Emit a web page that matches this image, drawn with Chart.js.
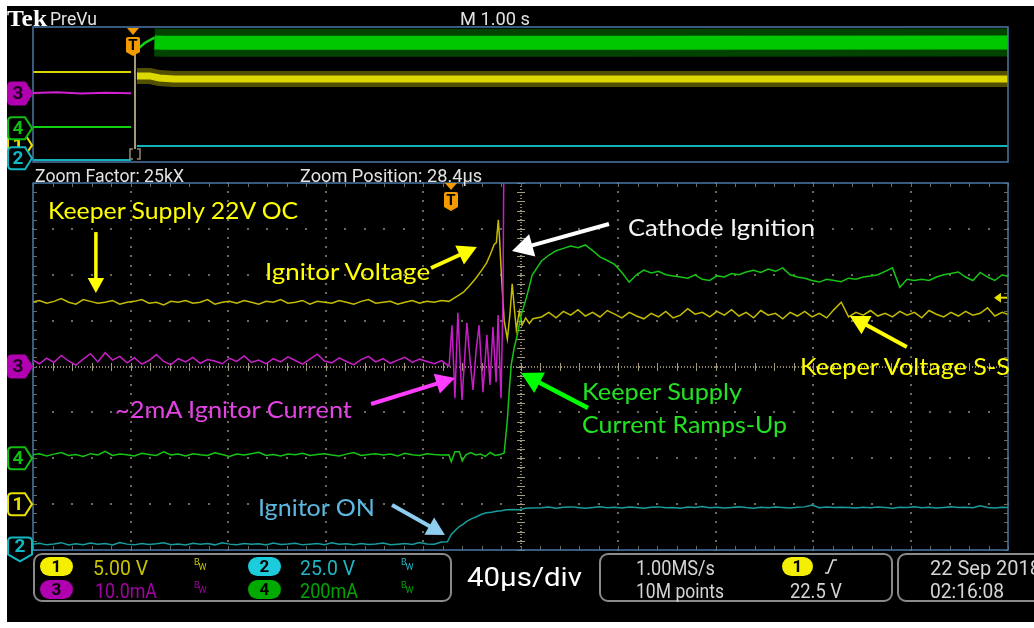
<!DOCTYPE html>
<html lang="en">
<head>
<meta charset="utf-8">
<title>Cathode ignition - scope capture</title>
<script src="https://cdn.jsdelivr.net/npm/chart.js@4.4.1/dist/chart.umd.min.js"></script>
<style>
  html, body { margin: 0; padding: 0; background: #fff; }
  body { width: 1034px; height: 628px; position: relative; overflow: hidden; }
  #screen { position: absolute; left: 7px; top: 6px; width: 1027px; height: 616px; background: #000; }
  canvas { position: absolute; left: 0; top: 0; }
  .lbl { position: absolute; line-height: 1; white-space: nowrap; transform-origin: 0 0; }
  .box { position: absolute; border: 2px solid #8a8a8a; border-radius: 9px; box-sizing: border-box; }
  .pill { position: absolute; width: 33px; height: 19px; border-radius: 10px; font: bold 17px Roboto, sans-serif;
          color: #000; text-align: center; line-height: 19px; }
  .bw { position: absolute; font: 9px Roboto, sans-serif; line-height: 1; }
  .bw span:last-child { position: relative; top: 5px; left: -1px; }
</style>
</head>
<body>
<div id="screen"></div>
<canvas id="overview" width="1034" height="628"></canvas>
<canvas id="zoom" width="1034" height="628"></canvas>

<!-- status bar -->
<div class="box" style="left:33px;top:553px;width:419px;height:49px"></div>
<div class="box" style="left:599px;top:553px;width:294px;height:49px"></div>
<div class="box" style="left:897px;top:553px;width:160px;height:49px"></div>
<div class="pill" style="left:40px;top:557px;background:#f4ee00">1</div>
<div class="pill" style="left:248px;top:557px;background:#1ccbdc">2</div>
<div class="pill" style="left:40px;top:580px;background:#b000b0">3</div>
<div class="pill" style="left:248px;top:580px;background:#00aa00">4</div>
<div class="pill" style="left:782px;top:557px;width:31px;background:#f4ee00">1</div>
<div class="bw" style="left:194px;top:558px;color:#c8c400"><span>B</span><span>W</span></div>
<div class="bw" style="left:401px;top:558px;color:#20b4c4"><span>B</span><span>W</span></div>
<div class="bw" style="left:194px;top:581px;color:#a400a4"><span>B</span><span>W</span></div>
<div class="bw" style="left:401px;top:581px;color:#00a400"><span>B</span><span>W</span></div>
<svg style="position:absolute;left:822px;top:557px" width="18" height="18">
  <path d="M3 16 L6 16 L11 3 L15 3" stroke="#dddddd" stroke-width="1.6" fill="none"/>
</svg>

<script>
// ---- scope settings ----
const timePerDiv = 40;      // µs/div in the zoom window
const zoomCenter = 28.4;    // µs, zoom position
const ovMin = -1.046;       // s, left edge of the 1 s/div overview record
const borderBlue = '#4a78a6';

const channels = [
  { id: 1, perDiv: 5,   ground: -3,   trace: '#c4bc00', over: '#dcd600' },
  { id: 2, perDiv: 25,  ground: -3.9, trace: '#1a9c9e', over: '#10b2bc' },
  { id: 3, perDiv: 10,  ground: 0,    trace: '#c81ec8', over: '#d020d0' },
  { id: 4, perDiv: 200, ground: -2,   trace: '#16c416', over: '#10d010' }
];

// ---- zoom window data (µs after trigger) ----
const tPre = [-172,-169,-166,-163,-160,-157,-154,-151,-148,-145,
  -142,-139,-136,-133,-130,-127,-124,-121,-118,-115,
  -112,-109,-106,-103,-100,-97,-94,-91,-88,-85,
  -82,-79,-76,-73,-70,-67,-64,-61,-58,-55,
  -52,-49,-46,-43,-40,-37,-34,-31,-28,-25,
  -22,-19,-16,-13,-10,-7,-4];
const tPost = [37,40,43,46,49,52,55,58,61,64,
  67,70,73,76,79,82,85,88,91,94,
  97,100,103,106,109,112,115,118,121,124,
  127,130,133,136,139,142,145,148,151,154,
  157,160,163,166,169,172,175,178,181,184,
  187,190,193,196,199,202,205,208,211,214,
  217,220,223,226,229];

// Ch1 ignitor / keeper voltage (V)
const ch1Pre = [22.0,22.2,21.9,22.1,22.4,22.0,21.8,22.3,22.1,21.9,
  22.0,22.2,21.8,22.0,22.1,22.3,21.9,22.0,21.7,22.1,
  22.0,22.2,21.9,22.0,22.3,21.8,22.0,22.1,21.9,22.2,
  22.0,21.8,22.1,22.0,22.3,21.9,22.0,22.2,21.8,22.1,
  22.0,21.9,22.2,22.0,21.8,22.1,22.3,21.9,22.0,22.1,
  21.8,22.0,22.2,21.9,22.1,22.0,22.2];
const ch1EventT = [-1,2,5,7.5,10,12.5,14.5,16,17.6,18.5,19.3,19.8,20.5,21.7,23,24,25,26,26.7,27.9,29,30.5,32,33.5];
const ch1EventV = [22.1,22.6,23.1,23.8,24.6,25.5,26.3,27.2,28.3,28.5,31.0,29.0,25.3,20.0,18.0,20.5,24.0,21.0,19.0,21.0,19.5,20.3,19.7,20.2];
const ch1Post = [20.4,20.9,20.3,21.0,20.6,21.2,20.5,20.9,20.4,21.1,
  20.7,20.3,20.9,20.5,20.2,20.8,20.4,21.0,20.3,20.6,
  21.3,20.7,20.9,20.4,21.0,20.6,21.2,20.5,20.9,20.3,
  21.1,20.6,20.8,20.2,20.9,20.5,21.0,20.4,20.8,20.3,
  21.2,22.0,20.4,20.9,20.6,21.1,20.5,20.8,20.4,21.0,
  20.6,20.9,20.3,21.1,20.7,20.4,20.9,20.5,21.0,20.6,
  20.8,21.4,20.5,20.9,20.6];

// Ch3 ignitor current (mA)
const ch3Pre = [1.5,0.6,1.8,0.9,2.4,1.2,0.3,1.6,2.8,1.0,
  3.0,1.4,2.2,0.8,1.9,0.5,1.3,2.6,1.1,0.4,
  1.7,1.0,2.0,0.7,1.5,1.2,0.6,1.8,1.1,2.3,
  0.9,1.4,0.6,1.7,1.0,2.1,1.3,0.5,1.6,2.7,
  1.2,0.8,1.9,1.1,0.4,1.5,2.2,1.0,1.7,0.7,
  1.4,2.0,0.9,1.6,1.1,0.6,1.3];
const ch3EventT = [-0.9,0.3,1.5,2.7,4.4,6.4,7.7,8.9,10.2,11.4,13.0,14.6,15.9,17.1,18.4,19.2,20.4,21.2,22.0,229];
const ch3EventV = [0.1,9.0,-6.9,11.7,-7.3,9.5,1.4,-5.1,3.6,9.0,-5.6,6.9,-4.0,8.6,-3.4,11.2,-6.9,14.5,80,80];

// Ch4 keeper supply current (mA)
const ch4Pre = [15,20,10,18,25,12,16,8,20,14,
  30,12,18,15,10,22,16,12,28,14,
  18,10,20,15,12,24,16,8,18,14,
  20,26,12,16,10,18,15,22,12,16,
  20,14,10,18,25,12,16,20,14,18,
  10,22,15,12,20,16,14];
const ch4EventT = [-1,0,1.5,3.3,4.5,6,8,10,12,14,16,18,20,21.7,23.0,23.8,24.6,25.8,27.1,28.7,30.8,33.2];
const ch4EventV = [15,-15,28,28,-12,15,25,14,18,8,25,12,16,23,167,298,407,481,538,625,699,799];
const ch4Post = [860,885,905,915,925,918,930,905,878,862,
  845,810,768,800,820,808,815,800,795,790,
  785,800,780,775,795,790,805,800,812,820,
  810,825,815,830,800,790,785,775,768,780,
  775,770,785,780,790,795,800,815,830,745,
  780,775,780,775,790,800,805,812,790,775,
  810,790,775,800,790];

// Ch2 ignitor supply voltage (V)
const ch2Pre = [0.5,1.2,0.3,0.8,1.5,0.2,0.9,0.4,1.3,0.6,
  1.0,0.2,1.6,0.7,0.3,1.1,0.5,0.9,1.4,0.4,
  0.8,0.2,1.2,0.6,1.0,0.3,1.5,0.7,0.4,1.1,
  0.6,0.9,0.2,1.3,0.5,0.8,1.2,0.3,0.7,1.0,
  0.4,1.4,0.6,0.9,0.3,1.1,0.5,0.8,1.3,0.4,
  0.7,1.0,0.5,1.6,0.8,0.6,1.8];
const ch2EventT = [-1.6,0,1.5,3.3,4.8,6.2,8.2,10.3,12.4,14.4,16.5,18.5,20.5,22.6,25,27.9,30.5,33];
const ch2EventV = [2.0,6.0,8.0,10.3,11.5,13.0,14.5,15.6,17.0,17.8,18.1,18.6,18.9,19.4,19.6,19.5,20.2,20.4];
const ch2Post = [20.5,20.9,20.3,20.8,21.0,20.6,20.2,20.7,21.1,20.5,
  20.8,20.4,20.9,20.6,20.2,20.8,21.0,20.5,20.7,20.3,
  20.9,20.6,21.2,20.5,20.8,20.4,20.7,21.0,20.6,20.3,
  20.8,20.5,20.9,20.7,20.4,20.8,21.0,22.0,20.5,20.9,
  20.6,20.8,20.7,20.4,20.8,20.5,20.9,20.6,20.3,20.8,
  20.7,21.1,20.5,20.8,20.4,20.7,21.0,20.6,20.8,20.5,
  21.6,20.7,20.4,20.8,20.6];

// ---- overview record (s after trigger) ----
const ovTPre = [-1.06,-0.8,-0.55,-0.3,-0.04];
const ov1Pre = [21.7,21.7,21.7,21.7,21.7];
const ov3Pre = [0.9,1.3,0.6,1.1,0.8];
const ov4Pre = [15,15,15,15,15];
const ov2Pre = [0.4,0.4,0.4,0.4,0.4];
const ovTPost = [0.02,0.15,0.25,0.4,2,5,8.96];
const ov1Post = [20.5,20.5,19.9,19.6,19.6,19.6,19.6];
const ov2Post = [21.2,21.2,21.2,21.2,21.2,21.2,21.2];
const ov4RampT = [0.02,0.1,0.2];
const ov4RampV = [930,1010,1075];
const ovTBand = [0.2,0.3,2,5,8.96];
const ov4Band = [1015,1012,1012,1014,1016];

// ---- annotations (µs, div) ----
const notes = [
  { text: 'Keeper Supply 22V OC', t: -165.5, d: 3.28, color: '#ffff00', w: 250,
    arrow: { from: [-145.8, 2.93], to: [-145.8, 1.60], color: '#ffff00', lw: 3.5, head: 15 } },
  { text: 'Ignitor Voltage', t: -76.4, d: 1.95, color: '#ffff00', w: 165,
    arrow: { from: [-8.3, 2.147], to: [10.5, 2.605], color: '#ffff00', lw: 4, head: 19 } },
  { text: 'Cathode Ignition', t: 72.5, d: 2.91, color: '#f4f4f4', w: 187,
    arrow: { from: [64.7, 3.106], to: [24.9, 2.518], color: '#ffffff', lw: 4, head: 21 } },
  { text: '~2mA Ignitor Current', t: -138.0, d: -1.057, color: '#e444e4', w: 237,
    arrow: { from: [-32.9, -0.817], to: [1.5, -0.251], color: '#ff3cff', lw: 4, head: 19 } },
  { text: 'Keeper Supply', t: 53.6, d: -0.665, color: '#22e222', w: 160,
    arrow: { from: [56.1, -0.904], to: [28.6, -0.142], color: '#00ff00', lw: 4.5, head: 21 } },
  { text: 'Current Ramps-Up', t: 53.6, d: -1.384, color: '#22e222', w: 205 },
  { text: 'Keeper Voltage S-S', t: 143.1, d: -0.12, color: '#ffff00', w: 210,
    arrow: { from: [186.9, 0.425], to: [163.5, 1.101], color: '#ffff00', lw: 4, head: 19 } },
  { text: 'Ignitor ON', t: -79.3, d: -3.193, color: '#5cb8e0', w: 117,
    arrow: { from: [-24.3, -3.019], to: [-2.6, -3.673], color: '#8ccdf0', lw: 4, head: 18 } }
];

// ---- scope UI text: [text, x, baseline, options] ----
const uiText = [
  ['Tek', 7, 25, { size: 24, font: 'Liberation Serif', weight: 'bold', color: '#ffffff', w: 40 }],
  ['PreVu', 50, 23, { size: 18, color: '#e2e2e2', w: 47 }],
  ['M 1.00 s', 460, 23, { size: 19, color: '#e2e2e2', w: 70 }],
  ['Zoom Factor: 25kX', 35, 180, { size: 19, color: '#e2e2e2', w: 149 }],
  ['Zoom Position: 28.4µs', 300, 180, { size: 19, color: '#e2e2e2', w: 182 }],
  ['5.00 V', 93, 573, { size: 20, color: '#c8c400', w: 55 }],
  ['25.0 V', 300, 573, { size: 20, color: '#20b4c4', w: 55 }],
  ['10.0mA', 95, 596, { size: 20, color: '#a400a4', w: 62 }],
  ['200mA', 300, 596, { size: 20, color: '#00a400', w: 58 }],
  ['40µs/div', 467, 584, { size: 26, color: '#ffffff', w: 115 }],
  ['1.00MS/s', 636, 573, { size: 20, color: '#d4d4d4', w: 79 }],
  ['10M points', 636, 596, { size: 20, color: '#d4d4d4', w: 88 }],
  ['22.5 V', 790, 596, { size: 20, color: '#d4d4d4', w: 52 }],
  ['22 Sep  2018', 930, 573, { size: 20, color: '#d4d4d4' }],
  ['02:16:08', 930, 596, { size: 20, color: '#d4d4d4', w: 74 }]
];

const baseFactor = { 'Lato': 0.887, 'Roboto': 0.842, 'Liberation Serif': 0.838 };

function putText(txt, x, base, o) {
  const font = o.font || 'Roboto';
  const el = document.createElement('div');
  el.className = 'lbl';
  el.textContent = txt;
  el.style.font = `${o.weight || 'normal'} ${o.size}px "${font}", sans-serif`;
  el.style.color = o.color;
  el.style.left = x + 'px';
  el.style.top = (base - o.size * (baseFactor[font] || 0.85)) + 'px';
  document.body.appendChild(el);
  if (o.w) {
    const s = o.w / el.getBoundingClientRect().width;
    el.style.transform = `scaleX(${s.toFixed(3)})`;
  }
  return el;
}

const pts = (ts, vs) => ts.map((t, i) => ({ x: t, y: vs[i] }));
const chById = id => channels.find(c => c.id === id);

function channelScales(xMin, xMax) {
  const scales = {
    x: { type: 'linear', display: false, min: xMin, max: xMax },
    yd: { type: 'linear', display: false, min: -4, max: 4 }
  };
  channels.forEach(c => {
    scales['y' + c.id] = { type: 'linear', display: false,
      min: (-4 - c.ground) * c.perDiv, max: (4 - c.ground) * c.perDiv };
  });
  return scales;
}

function trace(id, data, extra) {
  return Object.assign({ yAxisID: 'y' + id, data, borderColor: chById(id).trace, borderWidth: 1.5,
    pointRadius: 0, tension: 0, fill: false }, extra || {});
}

// ---- drawing helpers ----
function chMarker(ctx, cy, num, color, filled, down) {
  const x0 = 8, x1 = 25, x2 = 32, h = 22, r = 4;
  ctx.beginPath();
  if (down) {
    const top = cy - 8;
    ctx.moveTo(x0 + r, top); ctx.lineTo(x2 - r, top); ctx.quadraticCurveTo(x2, top, x2, top + r);
    ctx.lineTo(x2, top + 17); ctx.lineTo(20, top + 24); ctx.lineTo(x0, top + 17);
    ctx.lineTo(x0, top + r); ctx.quadraticCurveTo(x0, top, x0 + r, top);
  } else {
    ctx.moveTo(x0 + r, cy - h / 2); ctx.lineTo(x1, cy - h / 2); ctx.lineTo(x2, cy);
    ctx.lineTo(x1, cy + h / 2); ctx.lineTo(x0 + r, cy + h / 2);
    ctx.quadraticCurveTo(x0, cy + h / 2, x0, cy + h / 2 - r);
    ctx.lineTo(x0, cy - h / 2 + r); ctx.quadraticCurveTo(x0, cy - h / 2, x0 + r, cy - h / 2);
  }
  ctx.closePath();
  ctx.fillStyle = filled ? color : '#000';
  ctx.fill();
  ctx.lineWidth = 2;
  ctx.strokeStyle = color;
  ctx.stroke();
  ctx.fillStyle = filled ? '#1a001a' : color;
  ctx.font = 'bold 19px Roboto, sans-serif';
  ctx.textAlign = 'center';
  ctx.textBaseline = 'middle';
  ctx.fillText(num, down ? 20 : 18, down ? cy + 2 : cy + 1);
}

function trigT(ctx, x, top) {
  ctx.fillStyle = '#f39a00';
  ctx.beginPath();
  ctx.moveTo(x - 6, top); ctx.lineTo(x + 6, top); ctx.lineTo(x, top + 7);
  ctx.closePath(); ctx.fill();
  const y0 = top + 9, y1 = top + 24, w = 7;
  ctx.beginPath();
  ctx.moveTo(x - w + 2, y0); ctx.lineTo(x + w - 2, y0); ctx.quadraticCurveTo(x + w, y0, x + w, y0 + 2);
  ctx.lineTo(x + w, y1); ctx.lineTo(x, y1 + 4); ctx.lineTo(x - w, y1);
  ctx.lineTo(x - w, y0 + 2); ctx.quadraticCurveTo(x - w, y0, x - w + 2, y0);
  ctx.closePath(); ctx.fill();
  ctx.fillStyle = '#000';
  ctx.font = 'bold 15px Roboto, sans-serif';
  ctx.textAlign = 'center';
  ctx.textBaseline = 'middle';
  ctx.fillText('T', x, y0 + 9);
}

function drawArrow(ctx, x1, y1, x2, y2, color, lw, head) {
  const ang = Math.atan2(y2 - y1, x2 - x1);
  const c = Math.cos(ang), s = Math.sin(ang);
  const bx = x2 - c * head, by = y2 - s * head, hw = head * 0.55;
  ctx.strokeStyle = color; ctx.fillStyle = color; ctx.lineWidth = lw;
  ctx.beginPath(); ctx.moveTo(x1, y1); ctx.lineTo(bx + c, by + s); ctx.stroke();
  ctx.beginPath();
  ctx.moveTo(x2, y2);
  ctx.lineTo(bx + s * hw, by - c * hw);
  ctx.lineTo(bx - s * hw, by + c * hw);
  ctx.closePath(); ctx.fill();
}

function drawGraticule(chart) {
  const { ctx, chartArea: a, scales: { x: xs, yd } } = chart;
  const minorT = timePerDiv / 5;
  const px = t => Math.round(xs.getPixelForValue(t));
  const py = d => Math.round(yd.getPixelForValue(d));
  ctx.save();
  ctx.fillStyle = '#6e6a58';
  for (let k = -4; k <= 4; k++) {
    if (k === 0 || Math.abs(k) === 5) continue;
    const x = px(zoomCenter + k * timePerDiv);
    for (let d = -4; d <= 4.001; d += 0.2) ctx.fillRect(x - 1, py(d) - 1, 2, 2);
  }
  for (let d = -3; d <= 3; d++) {
    if (d === 0) continue;
    const y = py(d);
    for (let t = zoomCenter - 5 * timePerDiv; t <= xs.max + 0.01; t += minorT) ctx.fillRect(px(t) - 1, y - 1, 2, 2);
  }
  // centre cross
  const cx = px(zoomCenter), cy = py(0);
  ctx.fillStyle = '#8e866c';
  for (let y = a.top; y < a.bottom; y += 3) ctx.fillRect(cx - 1, y, 2, 1);
  for (let x = a.left; x < a.right; x += 3) ctx.fillRect(x, cy - 1, 1, 2);
  ctx.strokeStyle = '#a49a7c';
  ctx.lineWidth = 1;
  ctx.beginPath();
  for (let d = -4; d <= 4.001; d += 0.2) { const y = py(d) + 0.5; ctx.moveTo(cx - 4, y); ctx.lineTo(cx + 4, y); }
  for (let t = xs.min; t <= xs.max + 0.01; t += minorT) { const x = px(t) + 0.5; ctx.moveTo(x, cy - 4); ctx.lineTo(x, cy + 4); }
  ctx.stroke();
  // border ticks
  ctx.strokeStyle = '#6e6a58';
  ctx.beginPath();
  for (let t = xs.min; t <= xs.max + 0.01; t += minorT) {
    const x = px(t) + 0.5;
    ctx.moveTo(x, a.top); ctx.lineTo(x, a.top + 4);
    ctx.moveTo(x, a.bottom); ctx.lineTo(x, a.bottom - 4);
  }
  for (let d = -4; d <= 4.001; d += 0.2) {
    const y = py(d) + 0.5;
    ctx.moveTo(a.left, y); ctx.lineTo(a.left + 4, y);
    ctx.moveTo(a.right, y); ctx.lineTo(a.right - 4, y);
  }
  ctx.stroke();
  ctx.restore();
}

let notesPlaced = false;
const zoomPlugin = {
  id: 'zoomScope',
  beforeDatasetsDraw(chart) { drawGraticule(chart); },
  afterDatasetsDraw(chart) {
    const { ctx, chartArea: a, scales } = chart;
    const xs = scales.x, yd = scales.yd;
    ctx.save();
    ctx.strokeStyle = borderBlue;
    ctx.lineWidth = 1.5;
    ctx.strokeRect(a.left, a.top, a.right - a.left, a.bottom - a.top);

    // trigger level (ch1 at 22.5 V)
    const ty = scales.y1.getPixelForValue(22.5);
    ctx.fillStyle = '#e8e000';
    ctx.beginPath(); ctx.moveTo(a.right - 14, ty); ctx.lineTo(a.right - 7, ty - 5); ctx.lineTo(a.right - 7, ty + 5);
    ctx.closePath(); ctx.fill();
    ctx.strokeStyle = '#e8e000'; ctx.lineWidth = 2;
    ctx.beginPath(); ctx.moveTo(a.right - 8, ty); ctx.lineTo(a.right - 1, ty); ctx.stroke();

    trigT(ctx, Math.round(xs.getPixelForValue(0)), a.top);

    // channel ground markers
    chMarker(ctx, yd.getPixelForValue(chById(1).ground), '1', '#e8e000', false);
    chMarker(ctx, yd.getPixelForValue(chById(4).ground), '4', '#10c010', false);
    chMarker(ctx, yd.getPixelForValue(chById(3).ground), '3', '#b000b0', true);
    chMarker(ctx, yd.getPixelForValue(chById(2).ground), '2', '#10b8c4', false, true);

    // annotations
    notes.forEach(n => {
      if (n.arrow) {
        const f = n.arrow.from, t = n.arrow.to;
        drawArrow(ctx, xs.getPixelForValue(f[0]), yd.getPixelForValue(f[1]),
          xs.getPixelForValue(t[0]), yd.getPixelForValue(t[1]), n.arrow.color, n.arrow.lw, n.arrow.head);
      }
      if (!notesPlaced) {
        putText(n.text, xs.getPixelForValue(n.t), yd.getPixelForValue(n.d),
          { size: 23, font: 'Lato', color: n.color, w: n.w });
      }
    });
    notesPlaced = true;
    ctx.restore();
  }
};

const overviewPlugin = {
  id: 'overviewScope',
  afterDatasetsDraw(chart) {
    const { ctx, chartArea: a, scales } = chart;
    const x0 = Math.round(scales.x.getPixelForValue(0));
    const yd = scales.yd;
    ctx.save();
    ctx.strokeStyle = '#a8987a';
    ctx.lineWidth = 2;
    ctx.beginPath(); ctx.moveTo(x0, a.top + 26); ctx.lineTo(x0, a.bottom - 13); ctx.stroke();
    ctx.strokeStyle = '#948a76';
    ctx.lineWidth = 1.5;
    ctx.beginPath();
    ctx.moveTo(x0 - 2, a.bottom - 13); ctx.lineTo(x0 - 5, a.bottom - 13); ctx.lineTo(x0 - 5, a.bottom - 3); ctx.lineTo(x0 - 2, a.bottom - 3);
    ctx.moveTo(x0 + 2, a.bottom - 13); ctx.lineTo(x0 + 5, a.bottom - 13); ctx.lineTo(x0 + 5, a.bottom - 3); ctx.lineTo(x0 + 2, a.bottom - 3);
    ctx.stroke();
    ctx.strokeStyle = borderBlue;
    ctx.lineWidth = 1.5;
    ctx.strokeRect(a.left, a.top, a.right - a.left, a.bottom - a.top);
    trigT(ctx, x0 - 2, a.top + 1);

    chMarker(ctx, yd.getPixelForValue(chById(1).ground), '1', '#e8e000', false);
    chMarker(ctx, yd.getPixelForValue(chById(4).ground), '4', '#10c010', false);
    chMarker(ctx, yd.getPixelForValue(chById(2).ground) - 2, '2', '#10b8c4', false);
    chMarker(ctx, yd.getPixelForValue(chById(3).ground) - 1, '3', '#b000b0', true);
    ctx.restore();
  }
};

const baseOptions = padding => ({
  responsive: false,
  animation: false,
  events: [],
  layout: { padding },
  plugins: { legend: { display: false }, tooltip: { enabled: false } }
});

// ---- overview chart (1 s/div) ----
new Chart(document.getElementById('overview'), {
  type: 'line',
  data: {
    datasets: [
      trace(3, pts(ovTPre, ov3Pre), { borderColor: chById(3).over, borderWidth: 2 }),
      trace(4, pts(ovTPre, ov4Pre), { borderColor: chById(4).over, borderWidth: 2 }),
      trace(4, pts(ov4RampT, ov4RampV), { borderColor: chById(4).over, borderWidth: 2.5 }),
      trace(4, pts(ovTBand, ov4Band), { borderColor: '#00c800', borderWidth: 14 }),
      trace(4, pts(ovTBand, ov4Band), { borderColor: 'rgba(0,85,0,0.8)', borderWidth: 28 }),
      trace(1, pts(ovTPre, ov1Pre), { borderColor: chById(1).over, borderWidth: 2 }),
      trace(1, pts(ovTPost, ov1Post), { borderColor: '#dcd800', borderWidth: 7 }),
      trace(1, pts(ovTPost, ov1Post), { borderColor: 'rgba(110,105,0,0.75)', borderWidth: 16 }),
      trace(2, pts(ovTPre, ov2Pre), { borderColor: chById(2).over, borderWidth: 2 }),
      trace(2, pts(ovTPost, ov2Post), { borderColor: chById(2).over, borderWidth: 2 })
    ]
  },
  options: Object.assign(baseOptions({ left: 33, top: 27, right: 26, bottom: 466 }),
    { scales: channelScales(ovMin, ovMin + 10) }),
  plugins: [overviewPlugin]
});

// ---- zoom window chart (40 µs/div) ----
new Chart(document.getElementById('zoom'), {
  type: 'line',
  data: {
    datasets: [
      trace(3, [...pts(tPre, ch3Pre), ...pts(ch3EventT, ch3EventV)]),
      trace(4, [...pts(tPre, ch4Pre), ...pts(ch4EventT, ch4EventV), ...pts(tPost, ch4Post)]),
      trace(1, [...pts(tPre, ch1Pre), ...pts(ch1EventT, ch1EventV), ...pts(tPost, ch1Post)]),
      trace(2, [...pts(tPre, ch2Pre), ...pts(ch2EventT, ch2EventV), ...pts(tPost, ch2Post)])
    ]
  },
  options: Object.assign(baseOptions({ left: 33, top: 183, right: 26, bottom: 78 }),
    { scales: channelScales(zoomCenter - 5 * timePerDiv, zoomCenter + 5 * timePerDiv) }),
  plugins: [zoomPlugin]
});

uiText.forEach(([txt, x, base, o]) => putText(txt, x, base, o));
</script>
</body>
</html>
